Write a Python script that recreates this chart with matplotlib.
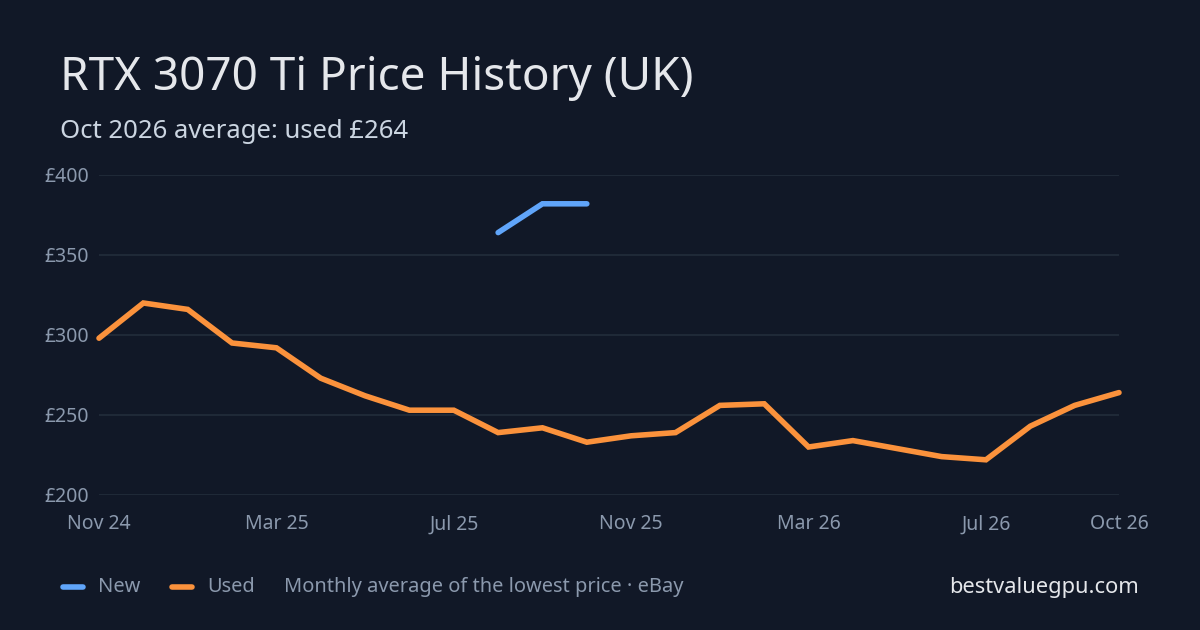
import matplotlib
matplotlib.use("Agg")
import numpy as np
import matplotlib.pyplot as plt
from matplotlib.lines import Line2D

plt.rcParams['font.family'] = ['Noto Sans', 'DejaVu Sans']

# monthly data, Nov 24 .. Oct 26
months = ["Nov 24", "Dec 24", "Jan 25", "Feb 25", "Mar 25", "Apr 25", "May 25", "Jun 25",
          "Jul 25", "Aug 25", "Sep 25", "Oct 25", "Nov 25", "Dec 25", "Jan 26", "Feb 26",
          "Mar 26", "Apr 26", "May 26", "Jun 26", "Jul 26", "Aug 26", "Sep 26", "Oct 26"]
used = [298, 320, 316, 295, 292, 273, 262, 253, 253, 239, 242, 233,
        237, 239, 256, 257, 230, 234, 229, 224, 222, 243, 256, 264]
new = [np.nan] * 9 + [364, 382, 382] + [np.nan] * 12
tick_labels = ["Nov 24", "Mar 25", "Jul 25", "Nov 25", "Mar 26", "Jul 26", "Oct 26"]
y_ticks = [200, 250, 300, 350, 400]

bg = "#111827"
grid_c = "#1f2937"
tick_c = "#8b99ad"
title_c = "#e5e7eb"
blue = "#60a5fa"
orange = "#fb923c"

fig = plt.figure(figsize=(12, 6.3), dpi=100, facecolor=bg)
ax = fig.add_axes([99 / 1200, 1 - 495 / 630, 1020 / 1200, 320 / 630], facecolor=bg)

x = np.arange(len(months))
ax.plot(x, used, color=orange, lw=4, solid_capstyle="round", solid_joinstyle="miter", zorder=3, clip_on=False)
ax.plot(x, new, color=blue, lw=4, solid_capstyle="round", solid_joinstyle="miter", zorder=3, clip_on=False)

ax.set_xlim(0, len(months) - 1)
ax.set_ylim(200, 400)
ax.set_yticks(y_ticks)
ax.set_yticklabels(["£%d" % v for v in y_ticks])
ax.set_xticks([months.index(t) for t in tick_labels])
ax.set_xticklabels(tick_labels)
ax.tick_params(colors=tick_c, labelsize=14, length=0)
ax.tick_params(axis="y", pad=7)
ax.tick_params(axis="x", pad=14)
ax.grid(axis="y", color=grid_c, lw=1.5)
ax.set_axisbelow(True)
for s in ax.spines.values():
    s.set_visible(False)

# titles
fig.text(60 / 1200, 1 - 78 / 630, "RTX 3070 Ti Price History (UK)", color=title_c, fontsize=33, va="center")
fig.text(60 / 1200, 1 - 131 / 630, "Oct 2026 average: used £264", color="#cbd5e1", fontsize=18.5, va="center")

# legend
ly = 1 - 587 / 630
fig.add_artist(Line2D([63 / 1200, 83 / 1200], [ly, ly], color=blue, lw=4, solid_capstyle="round"))
fig.text(98 / 1200, ly, "New", color=tick_c, fontsize=14.4, va="center")
fig.add_artist(Line2D([172 / 1200, 192 / 1200], [ly, ly], color=orange, lw=4, solid_capstyle="round"))
fig.text(207 / 1200, ly, "Used", color=tick_c, fontsize=14.4, va="center")
fig.text(284 / 1200, ly, "Monthly average of the lowest price · eBay", color=tick_c, fontsize=14.4, va="center")
fig.text(1139 / 1200, ly, "bestvaluegpu.com", color=title_c, fontsize=15.7, va="center", ha="right")

fig.savefig("out.png", dpi=100, facecolor=bg)
